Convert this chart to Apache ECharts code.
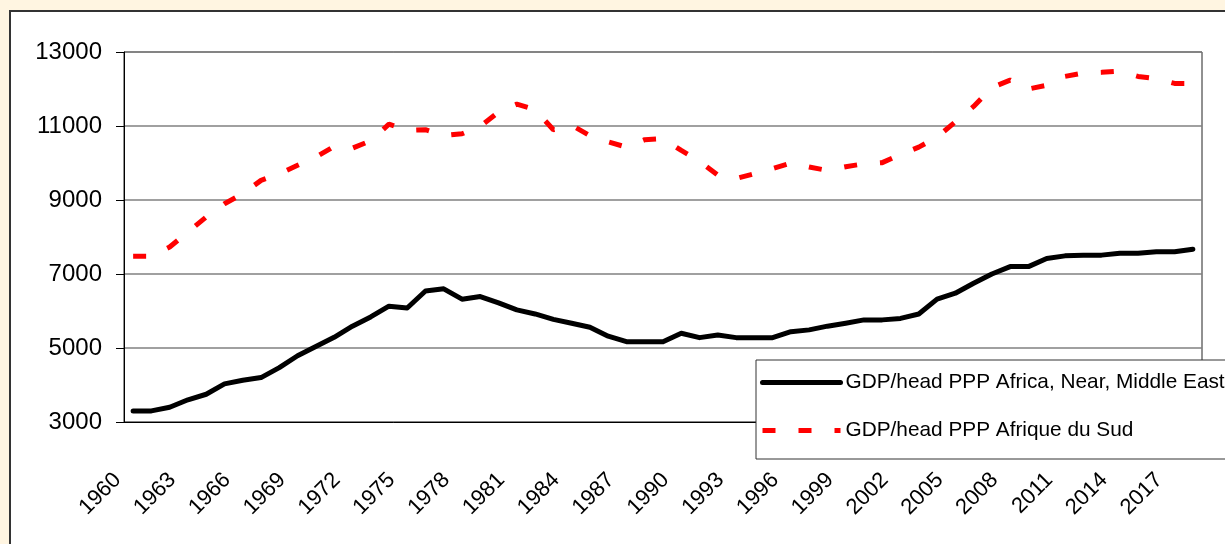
<!DOCTYPE html>
<html lang="fr" style="height: 100%">
<head>
  <meta charset="utf-8">
</head>
<body style="height: 100%; margin: 0; background: #fff5e1">
  <div id="container" style="width: 1225px; height: 544px"></div>

  <script type="text/javascript" src="https://fastly.jsdelivr.net/npm/echarts@6/dist/echarts.min.js"></script>

  <script type="text/javascript">
    var years = [
      '1960', '1961', '1962', '1963', '1964', '1965', '1966', '1967', '1968', '1969',
      '1970', '1971', '1972', '1973', '1974', '1975', '1976', '1977', '1978', '1979',
      '1980', '1981', '1982', '1983', '1984', '1985', '1986', '1987', '1988', '1989',
      '1990', '1991', '1992', '1993', '1994', '1995', '1996', '1997', '1998', '1999',
      '2000', '2001', '2002', '2003', '2004', '2005', '2006', '2007', '2008', '2009',
      '2010', '2011', '2012', '2013', '2014', '2015', '2016', '2017', '2018'
    ];

    // GDP/head PPP Africa, Near, Middle East
    var africaNearMiddleEast = [
      3300, 3300, 3400, 3600, 3750, 4030, 4130, 4200, 4470, 4790,
      5040, 5290, 5590, 5840, 6130, 6080, 6540, 6600, 6320, 6390,
      6220, 6030, 5920, 5775, 5670, 5560, 5320, 5170, 5170, 5170,
      5400, 5280, 5350, 5280, 5280, 5280, 5440, 5490, 5590, 5670,
      5760, 5760, 5800, 5920, 6320, 6480, 6750, 7000, 7200, 7200,
      7420, 7490, 7510, 7510, 7560, 7560, 7600, 7600, 7670
    ];

    // GDP/head PPP Afrique du Sud
    var afriqueDuSud = [
      7480, 7480, 7730, 8135, 8540, 8900, 9170, 9530, 9710, 9940,
      10160, 10450, 10400, 10600, 11050, 10880, 10900, 10740, 10790, 10990,
      11380, 11590, 11440, 10900, 11020, 10740, 10570, 10430, 10630, 10660,
      10340, 10050, 9670, 9580, 9710, 9850, 10000, 9890, 9800, 9900,
      9980, 10010, 10230, 10430, 10700, 11110, 11530, 12040, 12240, 12000,
      12100, 12340, 12430, 12450, 12480, 12340, 12280, 12150, 12150
    ];

    var seriesNames = ['GDP/head PPP Africa, Near, Middle East', 'GDP/head PPP Afrique du Sud'];

    var font = 'Liberation Sans, Arial, sans-serif';

    var dom = document.getElementById('container');
    var myChart = echarts.init(dom, null, { renderer: 'canvas' });

    var option = {
      backgroundColor: '#fff5e1',
      animation: false,
      graphic: [
        {
          type: 'rect',
          z: -10,
          shape: { x: 10, y: 11, width: 1300, height: 600 },
          style: { fill: '#fff', stroke: '#333', lineWidth: 2 }
        }
      ],
      grid: {
        left: 124,
        top: 52,
        right: 23,
        bottom: 122,
        show: true,
        borderColor: '#222',
        borderWidth: 1,
        backgroundColor: 'transparent'
      },
      legend: {
        orient: 'vertical',
        left: 756,
        top: 360,
        padding: [12, 2, 18, 4],
        itemWidth: 78,
        itemHeight: 20,
        itemGap: 27,
        backgroundColor: '#fff',
        borderColor: '#333',
        borderWidth: 1,
        itemStyle: { opacity: 0 },
        lineStyle: { width: 5 },
        textStyle: { fontSize: 20.8, color: '#000', fontFamily: font },
        data: seriesNames
      },
      xAxis: {
        type: 'category',
        data: years,
        boundaryGap: true,
        axisLine: { lineStyle: { color: '#000', width: 1 } },
        axisTick: { interval: 0, length: 8, lineStyle: { color: '#000' } },
        axisLabel: {
          interval: 2,
          rotate: 45,
          margin: 39,
          padding: [0, 22, 0, 0],
          fontSize: 22,
          color: '#000',
          fontFamily: font
        },
        splitLine: { show: false }
      },
      yAxis: {
        type: 'value',
        min: 3000,
        max: 13000,
        interval: 2000,
        axisLine: { show: true, lineStyle: { color: '#000', width: 1 } },
        axisTick: { show: true, length: 8, lineStyle: { color: '#000' } },
        axisLabel: {
          margin: 22,
          fontSize: 24,
          color: '#000',
          fontFamily: font,
          formatter: function (v) { return String(v); }
        },
        splitLine: { lineStyle: { color: '#808080', width: 1.5 } }
      },
      series: [
        {
          name: seriesNames[0],
          type: 'line',
          data: africaNearMiddleEast,
          symbol: 'none',
          lineStyle: { color: '#000', width: 5, cap: 'round', join: 'round' },
          itemStyle: { color: '#000' }
        },
        {
          name: seriesNames[1],
          type: 'line',
          data: afriqueDuSud,
          symbol: 'none',
          lineStyle: { color: '#ff0000', width: 5, type: [13, 23] },
          itemStyle: { color: '#ff0000' }
        }
      ]
    };

    myChart.setOption(option);
    window.addEventListener('resize', myChart.resize);
  </script>
</body>
</html>
